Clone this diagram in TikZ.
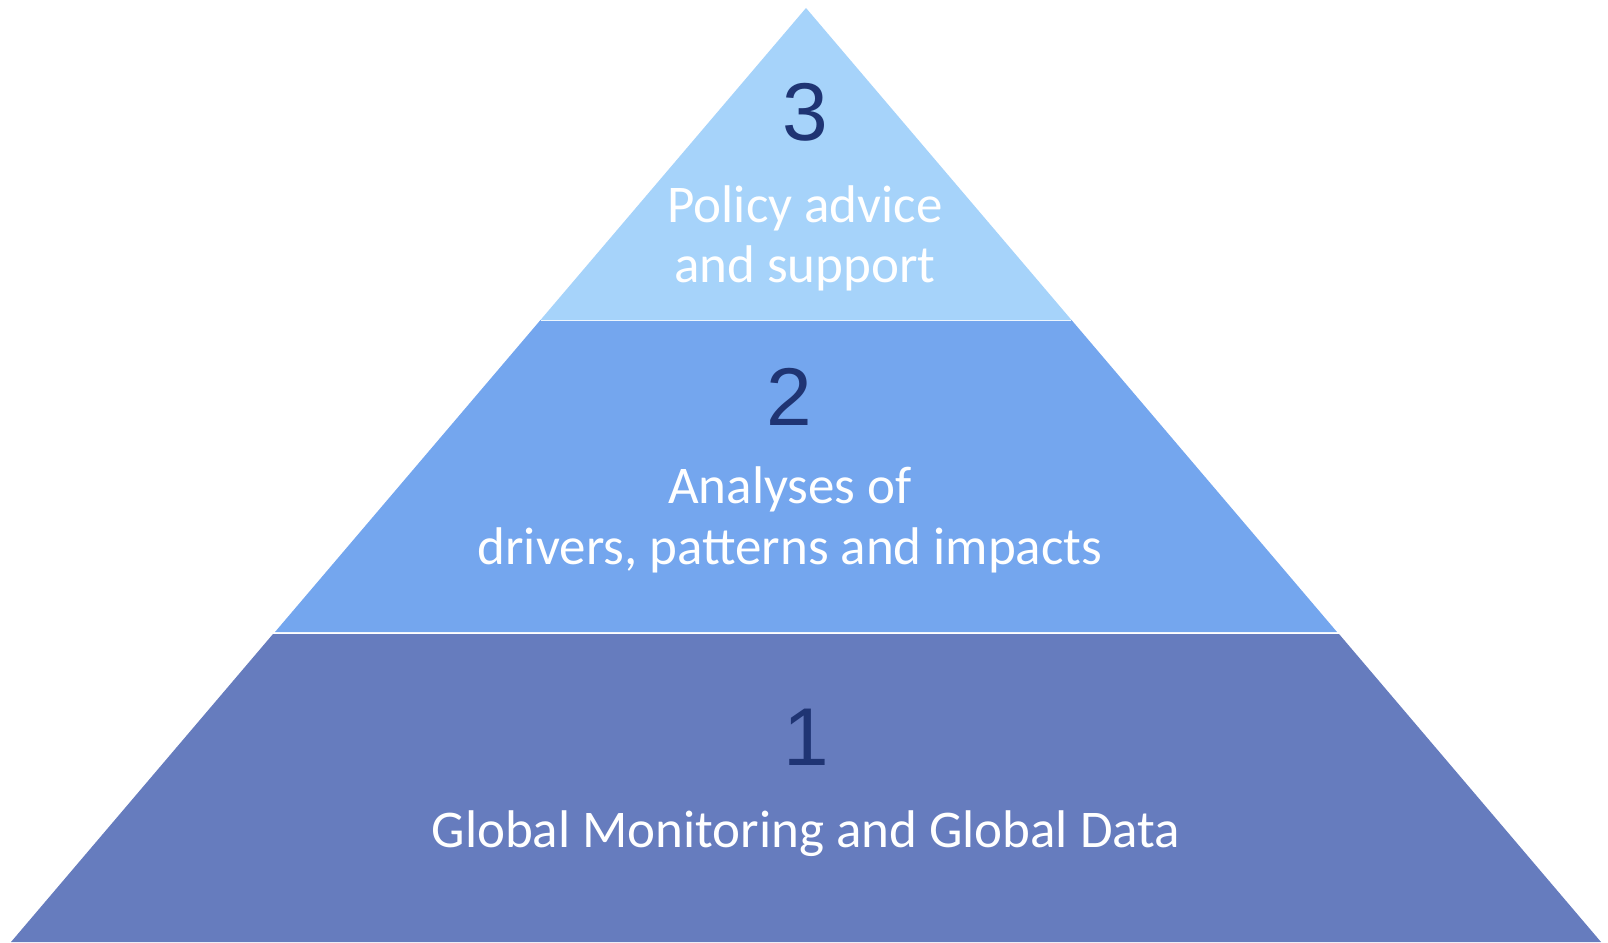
\documentclass[tikz,border=0pt]{standalone}
\usepackage{fontspec}
\setmainfont{Carlito}
\newfontfamily\numfont{Liberation Sans}
\definecolor{topblue}{HTML}{A6D3FA}
\definecolor{midblue}{HTML}{74A6EE}
\definecolor{lowblue}{HTML}{667CBE}
\definecolor{numblue}{HTML}{1F3473}
\begin{document}
\begin{tikzpicture}[x=1pt,y=-1pt,
		num/.style={anchor=base,inner sep=0pt,text=numblue,font=\numfont\fontsize{82}{82}\selectfont},
		lbl/.style={anchor=base,inner sep=0pt,text=white,font=\fontsize{53}{60}\selectfont}]
	\useasboundingbox (0,0) rectangle (1608,942);
	%% define layers
	\fill[lowblue] (273,634) -- (1339,634) -- (1601,942) -- (11,942) -- cycle;
	\fill[midblue] (275,632) -- (540.5,320) -- (1071.5,320) -- (1337,632) -- cycle;
	\fill[topblue] (540.5,320) -- (806,8) -- (1071.5,320) -- cycle;
	\draw[white!80!topblue,line width=1pt] (541,320) -- (1071,320);
	%% define labels
	\node (n3) at (805,140.5) [num] {3};
	\node (t3a) at (805,222.5) [lbl] {Policy advice};
	\node (t3b) at (805,282) [lbl] {and support};
	\node (n2) at (789,425) [num] {2};
	\node (t2a) at (790,503.5) [lbl] {Analyses of};
	\node (t2b) at (790,564) [lbl] {drivers, patterns and impacts};
	\node (n1) at (806,765) [num] {1};
	\node (t1) at (806,847) [lbl] {Global Monitoring and Global Data};
\end{tikzpicture}
\end{document}
